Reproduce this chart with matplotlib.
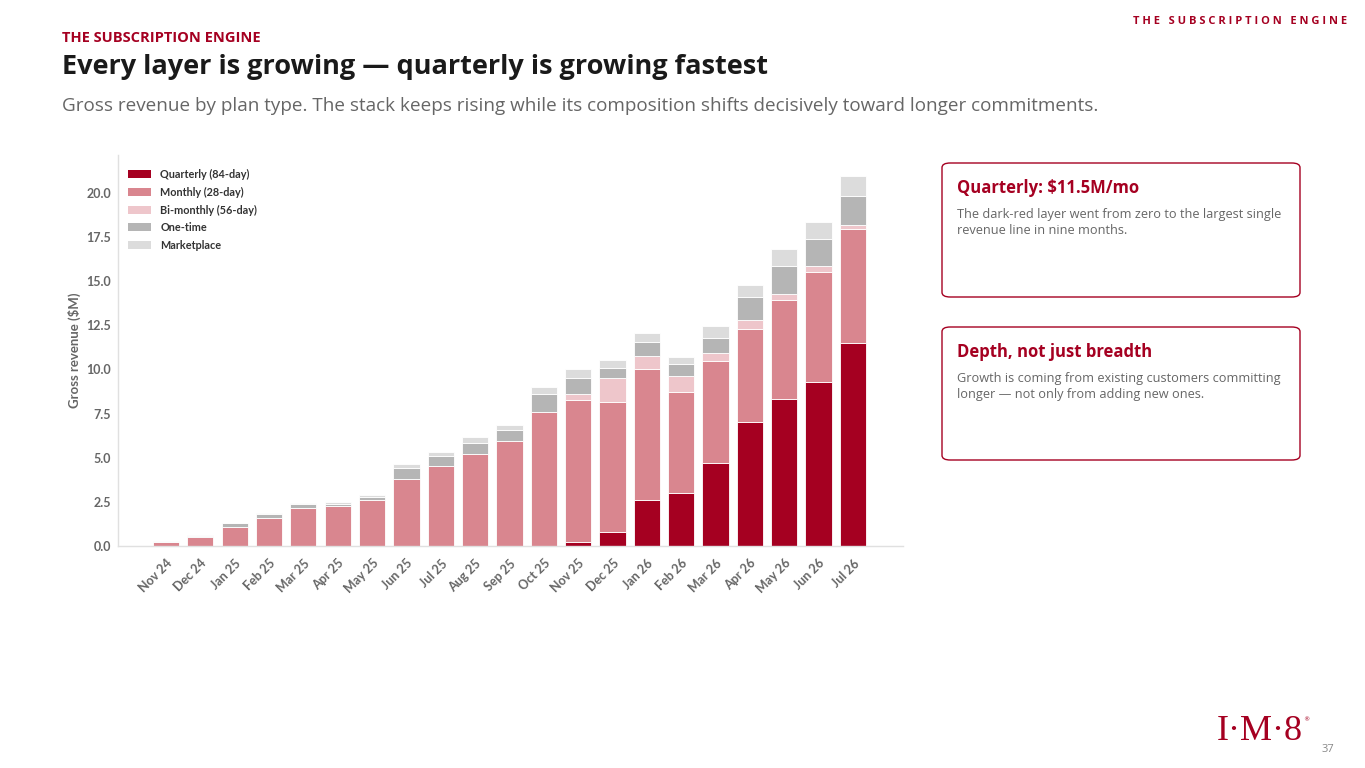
import matplotlib
matplotlib.use("Agg")
import matplotlib.pyplot as plt
from matplotlib.patches import FancyBboxPatch, Patch
import numpy as np

W, H = 1365, 768

months = ["Nov 24", "Dec 24", "Jan 25", "Feb 25", "Mar 25", "Apr 25", "May 25",
          "Jun 25", "Jul 25", "Aug 25", "Sep 25", "Oct 25", "Nov 25", "Dec 25",
          "Jan 26", "Feb 26", "Mar 26", "Apr 26", "May 26", "Jun 26", "Jul 26"]
quarterly = [0, 0, 0, 0, 0, 0, 0, 0, 0, 0, 0, 0, 0.2, 0.8, 2.6, 3.0, 4.7, 7.0, 8.3, 9.3, 11.5]
monthly = [0.2, 0.5, 1.1, 1.6, 2.15, 2.25, 2.6, 3.8, 4.55, 5.2, 5.95, 7.6, 8.05, 7.35,
           7.45, 5.75, 5.8, 5.3, 5.65, 6.25, 6.45]
bimonthly = [0, 0, 0, 0, 0, 0, 0, 0, 0, 0, 0, 0, 0.36, 1.35, 0.7, 0.9, 0.45, 0.5, 0.3, 0.32, 0.26]
onetime = [0, 0.07, 0.2, 0.2, 0.22, 0.15, 0.15, 0.6, 0.53, 0.63, 0.6, 1.0, 0.93, 0.6,
           0.8, 0.64, 0.85, 1.28, 1.59, 1.53, 1.63]
marketplace = [0.1, 0.03, 0.03, 0.05, 0.05, 0.1, 0.15, 0.25, 0.25, 0.35, 0.3, 0.43, 0.5, 0.42,
               0.5, 0.4, 0.66, 0.7, 1.0, 0.97, 1.1]

series_names = ["Quarterly (84-day)", "Monthly (28-day)", "Bi-monthly (56-day)", "One-time", "Marketplace"]
series_vals = [quarterly, monthly, bimonthly, onetime, marketplace]
colors = ["#A50021", "#D9868F", "#EEC6CB", "#B5B5B5", "#DCDCDC"]

RED = "#A50021"

fig = plt.figure(figsize=(W / 100, H / 100), dpi=100)
fig.patch.set_facecolor("white")


def fx(px):
    return px / W


def fy(py):
    return 1 - py / H


# Header texts
fig.text(fx(62), fy(38), "THE SUBSCRIPTION ENGINE", color=RED, fontsize=10.5,
         fontweight="bold", family="Open Sans", va="center", ha="left")
fig.text(fx(62), fy(67), "Every layer is growing \u2014 quarterly is growing fastest",
         color="#1a1a1a", fontsize=19.5, fontweight="bold", family="Open Sans",
         va="center", ha="left")
fig.text(fx(62), fy(106),
         "Gross revenue by plan type. The stack keeps rising while its composition shifts decisively toward longer commitments.",
         color="#666666", fontsize=13.6, family="Open Sans", va="center", ha="left")
fig.text(fx(1347), fy(22), "T H E   S U B S C R I P T I O N   E N G I N E", color=RED,
         fontsize=8, fontweight="bold", family="Open Sans", va="center", ha="right")

# Chart axes
ax_left, ax_right, ax_top, ax_bottom = 118, 903, 155, 546
ax = fig.add_axes([fx(ax_left), fy(ax_bottom), fx(ax_right - ax_left), (ax_bottom - ax_top) / H])
x = np.arange(len(months))
bottom = np.zeros(len(months))
for name, vals, c in zip(series_names, series_vals, colors):
    v = np.array(vals, dtype=float)
    ax.bar(x, v, width=0.76, bottom=bottom, color=c, edgecolor="white", linewidth=0.6,
           label=name, zorder=2)
    bottom += v

ax.set_xlim(-1.4, 21.46)
ax.set_ylim(0, 22.15)
ax.set_yticks(np.arange(0, 20.01, 2.5))
ax.set_yticklabels([f"{t:.1f}" for t in np.arange(0, 20.01, 2.5)])
ax.set_xticks(x)
ax.set_xticklabels(months, rotation=45, ha="right", rotation_mode="anchor")
ax.tick_params(axis="both", length=0, labelsize=9, labelcolor="#666666")
ax.tick_params(axis="x", pad=8)
ax.tick_params(axis="y", pad=5)
for lab in ax.get_xticklabels() + ax.get_yticklabels():
    lab.set_family("Lato")
    lab.set_fontweight("bold")
for s in ["top", "right"]:
    ax.spines[s].set_visible(False)
for s in ["left", "bottom"]:
    ax.spines[s].set_color("#E0E0E0")
    ax.spines[s].set_linewidth(1.0)
ax.set_ylabel("Gross revenue ($M)", fontsize=9.5, color="#666666", family="Lato",
              fontweight="bold", labelpad=4)

handles = [Patch(facecolor=c, edgecolor="none") for c in colors]
leg = ax.legend(handles, series_names, loc="upper left", bbox_to_anchor=(fx(128), fy(169)),
                bbox_transform=fig.transFigure, frameon=False, fontsize=7.8,
                handlelength=2.1, handleheight=0.75, labelspacing=0.62, handletextpad=0.9,
                borderaxespad=0, borderpad=0)
for t in leg.get_texts():
    t.set_family("Lato")
    t.set_fontweight("bold")
    t.set_color("#333333")

# Callout boxes
boxes = [
    (163, 297, "Quarterly: $11.5M/mo",
     "The dark-red layer went from zero to the largest single\nrevenue line in nine months."),
    (327, 460, "Depth, not just breadth",
     "Growth is coming from existing customers committing\nlonger \u2014 not only from adding new ones."),
]
bx0, bx1 = 942, 1300
for top, bot, title, body in boxes:
    p = FancyBboxPatch((fx(bx0), fy(bot)), fx(bx1 - bx0), (bot - top) / H,
                       boxstyle="round,pad=0,rounding_size=0.006",
                       transform=fig.transFigure, facecolor="white", edgecolor=RED,
                       linewidth=1.0, alpha=1, zorder=1)
    fig.patches.append(p)
    fig.text(fx(957), fy(top + 25), title, color=RED, fontsize=12, fontweight="bold",
             family="Open Sans", va="center", ha="left")
    fig.text(fx(957), fy(top + 45), body, color="#666666", fontsize=9.2,
             family="Open Sans", va="top", ha="left", linespacing=1.33)

# Logo and page number
fig.text(fx(1260), fy(731), "I\u00b7M\u00b78", color=RED, fontsize=26, family="Liberation Serif",
         va="center", ha="center")
fig.text(fx(1303), fy(720), "\u00ae", color=RED, fontsize=4.5, va="center", ha="left")
fig.text(fx(1334), fy(750), "37", color="#888888", fontsize=8, family="Open Sans",
         va="center", ha="right")

fig.savefig("out.png", dpi=100, facecolor="white")
